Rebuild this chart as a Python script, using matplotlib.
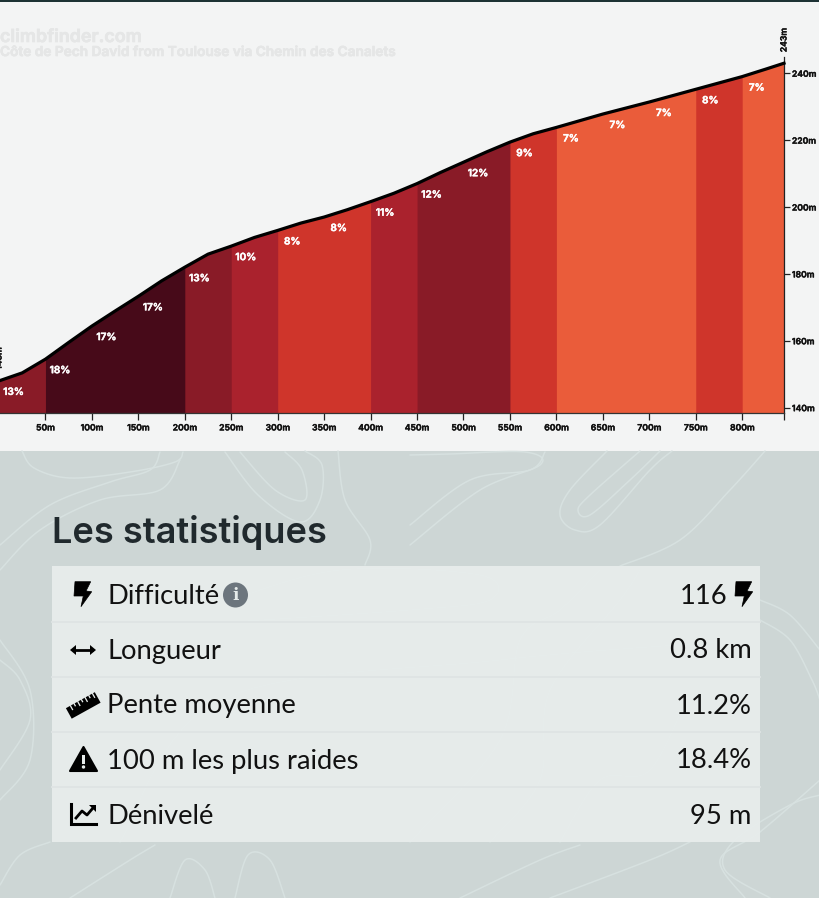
import matplotlib
matplotlib.use('Agg')
import matplotlib.pyplot as plt
import matplotlib.patheffects as pe
import numpy as np
from matplotlib.patches import Polygon, Circle, Rectangle
from matplotlib.transforms import Affine2D

# elevation profile
distance = [0, 25, 50, 75, 100, 125, 150, 175, 200, 225, 250, 275, 300, 325, 350, 375, 400,
            425, 450, 475, 500, 525, 550, 575, 600, 625, 650, 675, 700, 725, 750, 775, 800, 825, 845]
elevation = [148, 150.4, 154.5, 159.5, 164.4, 168.9, 173.3, 177.9, 182, 185.9, 188.3, 190.9, 193,
             195.2, 197, 199.2, 201.6, 204.1, 207, 210.3, 213.4, 216.5, 219.4, 221.9, 223.8,
             225.8, 227.8, 229.6, 231.4, 233.3, 235.2, 237.1, 239, 241.2, 243]

seg_start = [0, 50, 100, 150, 200, 250, 300, 350, 400, 450, 500, 550, 600, 650, 700, 750, 800]
seg_grade = [13, 18, 17, 17, 13, 10, 8, 8, 11, 12, 12, 9, 7, 7, 7, 8, 7]

x_ticks = [50, 100, 150, 200, 250, 300, 350, 400, 450, 500, 550, 600, 650, 700, 750, 800]
y_ticks = [140, 160, 180, 200, 220, 240]

site_name = 'climbfinder.com'
climb_name = 'Côte de Pech David from Toulouse via Chemin des Canalets'

stats_title = 'Les statistiques'
stat_names = ['Difficulté', 'Longueur', 'Pente moyenne', '100 m les plus raides', 'Dénivelé']
stat_values = ['116', '0.8 km', '11.2%', '18.4%', '95 m']

# contour lines of the page background, in page pixels
contours = [
    [(22, 451), (34, 468), (70, 478), (130, 472), (175, 462), (183, 452)],
    [(0, 570), (40, 530), (100, 500), (160, 490), (180, 460)],
    [(0, 545), (50, 505), (110, 482), (150, 470), (160, 452)],
    [(240, 452), (275, 490), (305, 500), (302, 470), (285, 452)],
    [(225, 452), (258, 495), (300, 522), (320, 500), (322, 465), (305, 451)],
    [(338, 451), (345, 500), (370, 540), (365, 565)],
    [(410, 545), (480, 490), (540, 465), (525, 452), (450, 454), (410, 455)],
    [(410, 525), (470, 480), (530, 470), (545, 452)],
    [(607, 451), (570, 490), (560, 515), (575, 530), (600, 525), (650, 470), (672, 451)],
    [(640, 451), (590, 495), (578, 510), (590, 515), (630, 480), (660, 451)],
    [(620, 566), (680, 540), (730, 490), (765, 451)],
    [(760, 600), (790, 615), (820, 650)],
    [(760, 620), (790, 640), (812, 680), (820, 700)],
    [(770, 898), (725, 870), (735, 840), (790, 805), (820, 795)],
    [(745, 898), (720, 860), (760, 832), (820, 780)],
    [(0, 660), (20, 680), (30, 720), (0, 770)],
    [(0, 640), (30, 690), (30, 760), (0, 800)],
    [(50, 842), (20, 855), (0, 885)],
    [(170, 898), (185, 860), (205, 870), (215, 898)],
    [(235, 898), (248, 855), (270, 860), (285, 898)],
    [(70, 898), (130, 860), (155, 845)],
    [(460, 898), (540, 860), (580, 845)],
    [(550, 898), (650, 860), (690, 842)],
    [(120, 842), (220, 700), (500, 660), (720, 642)],
    [(410, 842), (500, 740), (520, 640), (560, 610), (600, 570)],
    [(490, 842), (540, 780), (550, 690), (620, 600), (640, 570)],
    [(230, 600), (340, 570), (480, 575), (490, 600), (410, 610), (230, 622)],
    [(560, 842), (600, 780), (650, 770), (690, 690)],
]

DARK = '#470a19'
PAGE_TOP = '#f3f4f4'
PAGE_LOW = '#cdd6d5'


def grade_colour(g):
    if g >= 15:
        return DARK
    if g >= 12:
        return '#891b27'
    if g >= 10:
        return '#aa222d'
    if g >= 8:
        return '#cf352b'
    return '#ea5c3a'


def smooth(pts, n=14):
    # catmull-rom through the points, only for the background lines
    p = np.array([pts[0]] + list(pts) + [pts[-1]], dtype=float)
    out = []
    for i in range(1, len(p) - 2):
        for t in np.linspace(0, 1, n):
            out.append(0.5 * (2 * p[i] + (p[i + 1] - p[i - 1]) * t
                              + (2 * p[i - 1] - 5 * p[i] + 4 * p[i + 1] - p[i + 2]) * t ** 2
                              + (3 * p[i] - p[i - 1] - 3 * p[i + 1] + p[i + 2]) * t ** 3))
    return np.array(out)


def heavier(colour, w=0.35):
    # Inter only comes in one weight here, a thin stroke thickens it
    return [pe.withStroke(linewidth=w, foreground=colour)]


fig = plt.figure(figsize=(8.2, 8.98), dpi=100)

# page layer, in pixels
page = fig.add_axes([0, 0, 1, 1])
page.set_xlim(0, 820)
page.set_ylim(898, 0)
page.axis('off')
page.add_patch(Rectangle((0, 0), 820, 451, color=PAGE_TOP, lw=0))
page.add_patch(Rectangle((0, 0), 820, 1.5, color='#1d3234', lw=0))
page.add_patch(Rectangle((0, 451), 820, 447, color=PAGE_LOW, lw=0))
for c in contours:
    xy = smooth(c)
    page.plot(xy[:, 0], xy[:, 1], color='#d7e1e0', lw=1.1, solid_capstyle='round', zorder=1)

page.add_patch(Rectangle((52, 566), 708, 276, color='#e8edec', alpha=0.93, lw=0, zorder=2))
for y in [622, 677, 732, 787]:
    page.plot([52, 760], [y, y], color='#dfe4e4', lw=1.3, zorder=3)

page.text(0, 37.5, site_name, fontsize=12.9, family='Inter', weight='semibold', color='#e5e6e6', va='center',
          path_effects=heavier('#e5e6e6', 0.5))
page.text(0, 52, climb_name, fontsize=9.85, family='Inter', weight='semibold', color='#e5e6e6', va='center',
          path_effects=heavier('#e5e6e6', 0.5))

page.text(52, 543.5, stats_title, fontsize=26, family='Inter', weight='semibold', color='#20292d', va='baseline')

row_y = [595, 650, 705, 760, 815]
for name, y in zip(stat_names, row_y):
    page.text(107.5, y + 8.5, name, fontsize=19.7, family='Lato', color='#111111', va='baseline', zorder=5)
for val, y, right in zip(stat_values, row_y, [728, 751.5, 751.5, 751.5, 751.5]):
    page.text(right, y + 8.5, val, fontsize=19.7, family='Lato', color='#111111', va='baseline', ha='right', zorder=5)

# icons
bolt = np.array([(75, 581.7), (90.7, 581.7), (86, 591), (91.7, 591.7), (81, 606.7), (83.3, 596), (74, 596)])
page.add_patch(Polygon(bolt, color='black', lw=0.5, zorder=5))
page.add_patch(Polygon(bolt + [661, 0], color='black', lw=0.5, zorder=5))

page.add_patch(Circle((235.5, 595), 12.5, color='#6c757d', lw=0, zorder=5))
page.text(235.5, 595.5, 'i', fontsize=12, family='DejaVu Serif', weight='bold', color='#e6ebea',
          ha='center', va='center', zorder=6)

page.plot([74, 92], [650, 650], color='black', lw=2, zorder=5)
page.add_patch(Polygon([(70, 650), (76, 645), (76, 655)], color='black', lw=0, zorder=5))
page.add_patch(Polygon([(96, 650), (90, 645), (90, 655)], color='black', lw=0, zorder=5))

rot = Affine2D().rotate_deg_around(83, 705, -29) + page.transData
page.add_patch(Rectangle((66.5, 699.5), 33, 12, color='black', lw=0, zorder=5, transform=rot))
for i, tx in enumerate(np.arange(71, 97, 4.2)):
    page.add_patch(Rectangle((tx, 699), 1.3, 3.5 if i % 2 else 5.5, color='#e6ebea', lw=0, zorder=6, transform=rot))

page.add_patch(Polygon([(83.5, 747), (97, 771), (70, 771)], color='black', lw=1.5, joinstyle='round', zorder=5))
page.add_patch(Rectangle((82.2, 755), 2.6, 9, color='#e6ebea', lw=0, zorder=6))
page.add_patch(Circle((83.5, 767), 1.7, color='#e6ebea', lw=0, zorder=6))

page.plot([71, 71, 96], [804, 823.5, 823.5], color='black', lw=2.2, solid_joinstyle='miter', zorder=5)
page.plot([76, 82, 87, 93], [818, 811, 815, 808], color='black', lw=2, zorder=5)
page.add_patch(Polygon([(96, 805), (96, 812), (89, 805)], color='black', lw=0, zorder=5))

# chart layer: x = -1 + 0.93*d pixels, base of the chart at 138.4 m
px_per_elev = 3.344
ax_left, ax_right, ax_bottom, y_max = -1, 784, 413, 255
ax_top = ax_bottom - (y_max - 138.4) * px_per_elev
ax = fig.add_axes([ax_left / 820, (898 - ax_bottom) / 898, (ax_right - ax_left) / 820, (ax_bottom - ax_top) / 898])
ax.patch.set_alpha(0)
ax.set_xlim(0, 845)
ax.set_ylim(138.4, y_max)

d = np.array(distance)
e = np.array(elevation)
# each segment runs to the end and the next one paints over it, so no seams show
for s, g in zip(seg_start, seg_grade):
    m = d >= s
    ax.fill_between(d[m], 138.4, e[m], color=grade_colour(g), lw=0, zorder=1)
ax.plot(d, e, color='black', lw=2.3, solid_joinstyle='round', clip_on=False, zorder=3)

for s, g in zip(seg_start, seg_grade):
    ax.annotate(f'{g}%', (s, np.interp(s, d, e)), xytext=(14.5, -11), textcoords='offset pixels',
                color='white', fontsize=7.2, family='Inter', weight='semibold', ha='center', va='center', zorder=4,
                path_effects=heavier('white'))

for sp in ['top', 'left']:
    ax.spines[sp].set_visible(False)
ax.spines['right'].set_bounds(138.4, 245)
ax.spines['right'].set_linewidth(0.9)
ax.spines['right'].set_color('#222222')
ax.spines['bottom'].set_linewidth(0.9)
ax.spines['bottom'].set_color('#333333')
ax.yaxis.tick_right()
ax.set_xticks(x_ticks + [845])
ax.set_xticklabels([f'{v}m' for v in x_ticks] + [''])
ax.set_yticks(y_ticks)
ax.set_yticklabels([f'{v}m' for v in y_ticks])
ax.tick_params(axis='x', length=5, width=0.9, pad=2.5, color='#222222')
ax.tick_params(axis='y', length=4.2, width=0.9, pad=1.5, color='#222222')
for lab in ax.get_xticklabels() + ax.get_yticklabels():
    lab.set_fontsize(6.2)
    lab.set_family('Inter')
    lab.set_fontweight('semibold')
    lab.set_color('#111111')
    lab.set_path_effects(heavier('#111111', 0.3))

for dist_end, elev_end in [(distance[0], elevation[0]), (distance[-1], elevation[-1])]:
    ax.annotate(f'{elev_end}m', (dist_end, elev_end), xytext=(0, 11), textcoords='offset pixels', rotation=90,
                fontsize=6.2, family='Inter', weight='semibold', color='#111111', ha='center', va='bottom',
                annotation_clip=False, path_effects=heavier('#111111', 0.3))

fig.savefig('out.png', dpi=100)
